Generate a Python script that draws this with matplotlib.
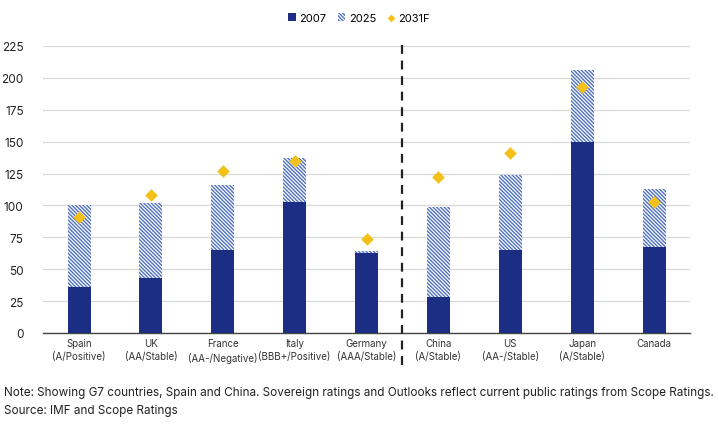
import matplotlib.pyplot as plt
import numpy as np

plt.rcParams['font.family'] = ['Inter', 'DejaVu Sans']
plt.rcParams['hatch.linewidth'] = 1.0

countries = ['Spain\n(A/Positive)', 'UK\n(AA/Stable)', 'France\n(AA-/Negative)',
             'Italy\n(BBB+/Positive)', 'Germany\n(AAA/Stable)', 'China\n(A/Stable)',
             'US\n(AA-/Stable)', 'Japan\n(A/Stable)', 'Canada']
debt_2007 = [36, 43, 65, 103, 63, 28, 65, 150, 67]
debt_2025 = [100, 102, 116, 137, 64, 99, 124, 206, 113]
debt_2031 = [91, 108, 127, 135, 74, 122, 141, 193, 103]

navy = '#1b2e84'
hatch_col = '#4f71c2'
gold = '#f4c01c'

fig = plt.figure(figsize=(7.18, 4.27), dpi=100)
ax = fig.add_axes([0.06, 0.218, 0.901, 0.672])

x = np.arange(len(countries))
w = 0.32
extra = np.array(debt_2025) - np.array(debt_2007)
b1 = ax.bar(x, debt_2007, width=w, color=navy, label='2007', zorder=3)
b2 = ax.bar(x, extra, width=w, bottom=debt_2007, color='white', edgecolor=hatch_col,
            hatch='\\' * 9, linewidth=0, label='2025', zorder=3)
sc = ax.scatter(x, debt_2031, marker='D', s=42, color=gold, label='2031F', zorder=4,
                linewidths=0)

# separator between G7/Spain and the rest
ax.plot([4.5, 4.5], [-25, 229], ls=(0, (4, 3)), color='#222222', lw=1.6,
        clip_on=False, zorder=5)

ax.set_xlim(-0.5, 8.5)
ax.set_ylim(0, 225)
ax.set_yticks(range(0, 226, 25))
ax.set_xticks(x)
ax.set_xticklabels(countries, fontsize=7.0, color='#333333', linespacing=1.35)
ax.tick_params(axis='y', labelsize=8.5, colors='#222222', length=0, pad=14)
ax.tick_params(axis='x', length=0, pad=4)
ax.grid(axis='y', color='#d9d9d9', lw=0.9, zorder=0)
for s in ['top', 'right', 'left']:
    ax.spines[s].set_visible(False)
ax.spines['bottom'].set_color('#444444')
ax.spines['bottom'].set_linewidth(1.0)

fig.legend([b1, b2, sc], ['2007', '2025', '2031F'], loc='center',
           bbox_to_anchor=(0.5, 0.955), ncol=3, frameon=False,
           fontsize=8, handlelength=0.7, handleheight=0.7, columnspacing=1.0,
           handletextpad=0.3, markerscale=0.6)

fig.text(0.006, 0.073, 'Note: Showing G7 countries, Spain and China. Sovereign ratings and Outlooks '
         'reflect current public ratings from Scope Ratings.', fontsize=8.45, color='#222222')
fig.text(0.006, 0.031, 'Source: IMF and Scope Ratings', fontsize=8.45, color='#222222')

fig.savefig('out.png', dpi=100)
